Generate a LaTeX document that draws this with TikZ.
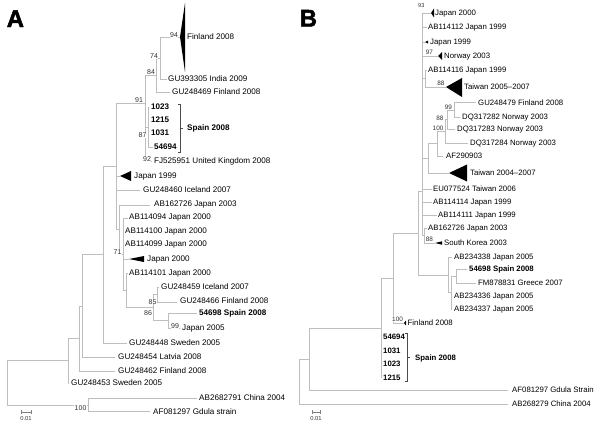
\documentclass[tikz,border=0pt]{standalone}
\usepackage{fontspec}
\setmainfont{Liberation Sans}
\newfontfamily\heavyfont[FakeBold=2]{Liberation Sans Bold}
\definecolor{linegray}{RGB}{190,190,190}
\definecolor{bsgray}{RGB}{50,50,50}
\newcommand\hbranch[3]{\draw[br] (#1,#3) -- (#2,#3);}
\newcommand\vbranch[3]{\draw[br] (#1,#2) -- (#1,#3);}
\tikzset{
  br/.style={draw=linegray, line width=0.9pt, line cap=rect},
  brk/.style={draw=black!70, line width=0.8pt},
  tri/.style={fill=black, draw=none},
  labA/.style={font=\fontsize{8.1}{9}\selectfont, anchor=west, inner sep=0pt, text height=5.8pt, text depth=0pt},
  labB/.style={font=\fontsize{7.8}{9}\selectfont, anchor=west, inner sep=0pt, text height=5.6pt, text depth=0pt},
  bsA/.style={font=\fontsize{7}{8}\selectfont, anchor=east, inner sep=0.4pt, fill=white, text=bsgray, text height=5pt, text depth=0pt},
  bsB/.style={font=\fontsize{6.4}{7}\selectfont, anchor=east, inner sep=0.4pt, fill=white, text=bsgray, text height=4.6pt, text depth=0pt},
  scl/.style={font=\fontsize{5.8}{6}\selectfont, inner sep=0pt, text=bsgray},
  panel/.style={font=\heavyfont\fontsize{24}{24}\selectfont, anchor=base west, inner sep=0pt}
}
\begin{document}
\begin{tikzpicture}[x=1pt,y=-1pt]
\useasboundingbox (0,0) rectangle (600,429);
% ================= Panel A =================
\node[panel] (pA) at (6.5,27) {A};
\vbranch{160}{37}{79}
\hbranch{160}{180}{37}
\fill[tri] (180,37) -- (185,3) -- (185,72) -- cycle;
\hbranch{160}{167}{79}
\vbranch{156}{58}{92}
\hbranch{156}{160}{58}
\hbranch{156}{170}{92}
\vbranch{145}{75}{161}
\hbranch{145}{156}{75}
\hbranch{116}{145}{103}
\vbranch{148}{107}{147}
\hbranch{145}{148}{127}
\hbranch{148}{153}{147}
\hbranch{145}{152}{161}
\draw[brk] (178,104) -- (180,104) -- (180,152) -- (178,152);
\draw[brk] (180,128) -- (183,128);
\vbranch{116}{103}{229.5}
\hbranch{103}{116}{166}
\hbranch{116}{120}{176}
\fill[tri] (120,176) -- (131,171) -- (131,181) -- cycle;
\hbranch{116}{140}{190}
\vbranch{119}{205}{254}
\hbranch{116}{119}{229.5}
\hbranch{119}{150}{205}
\vbranch{123}{218}{290}
\hbranch{119}{123}{254}
\hbranch{123}{128}{218}
\hbranch{123}{129}{259}
\fill[tri] (129,259) -- (144,256) -- (144,262) -- cycle;
\hbranch{123}{126}{290}
\vbranch{126}{273}{307.5}
\hbranch{126}{128}{273}
\hbranch{126}{153}{307.5}
\vbranch{153}{294.5}{320.5}
\vbranch{157}{287}{302}
\hbranch{153}{157}{294.5}
\hbranch{157}{159}{287}
\hbranch{157}{177}{302}
\vbranch{168}{313}{328}
\hbranch{153}{168}{320.5}
\hbranch{168}{197}{313}
\hbranch{168}{180}{328}
\vbranch{103}{166}{343}
\hbranch{82}{103}{254.5}
\hbranch{103}{127}{343}
\vbranch{82}{254.5}{357}
\hbranch{79}{82}{306}
\hbranch{82}{115}{357}
\vbranch{79}{306}{371}
\hbranch{68}{79}{338.5}
\hbranch{79}{115}{371}
\vbranch{68}{338.5}{383}
\hbranch{7}{68}{360.75}
\hbranch{68}{69}{383}
\vbranch{7}{360.75}{405}
\hbranch{7}{88}{405}
\vbranch{88}{398}{411.5}
\hbranch{88}{197}{398}
\hbranch{88}{150}{411.5}
% scale bar A
\draw[br, draw=gray] (21,412) -- (31,412);
\draw[br, draw=gray] (21,410.5) -- (21,413.5);
\draw[br, draw=gray] (31,410.5) -- (31,413.5);
\node[scl] (sA) at (26,418.5) {0.01};
% labels A
\node[labA] (a1) at (187,37) {Finland 2008};
\node[labA] (a2) at (168,79) {GU393305 India 2009};
\node[labA] (a3) at (172,92) {GU248469 Finland 2008};
\node[labA, font=\bfseries\fontsize{8.1}{9}\selectfont] (a4) at (151,107) {1023};
\node[labA, font=\bfseries\fontsize{8.1}{9}\selectfont] (a5) at (151,120) {1215};
\node[labA, font=\bfseries\fontsize{8.1}{9}\selectfont] (a6) at (151,133) {1031};
\node[labA, font=\bfseries\fontsize{8.1}{9}\selectfont] (a7) at (154,147) {54694};
\node[labA, font=\bfseries\fontsize{8.1}{9}\selectfont] (a8) at (187,128) {Spain 2008};
\node[labA] (a9) at (154,161) {FJ525951 United Kingdom 2008};
\node[labA] (a10) at (134,176) {Japan 1999};
\node[labA] (a11) at (143,190) {GU248460 Iceland 2007};
\node[labA] (a12) at (154,204) {AB162726 Japan 2003};
\node[labA] (a13) at (129,217) {AB114094 Japan 2000};
\node[labA] (a14) at (125,231) {AB114100 Japan 2000};
\node[labA] (a15) at (125,244) {AB114099 Japan 2000};
\node[labA] (a16) at (147,259) {Japan 2000};
\node[labA] (a17) at (129,273) {AB114101 Japan 2000};
\node[labA] (a18) at (161,287) {GU248459 Iceland 2007};
\node[labA] (a19) at (180,301) {GU248466 Finland 2008};
\node[labA, font=\bfseries\fontsize{8.1}{9}\selectfont] (a20) at (199,313) {54698 Spain 2008};
\node[labA] (a21) at (182,328) {Japan 2005};
\node[labA] (a22) at (129,343) {GU248448 Sweden 2005};
\node[labA] (a23) at (118,357) {GU248454 Latvia 2008};
\node[labA] (a24) at (118,371) {GU248462 Finland 2008};
\node[labA] (a25) at (71,383) {GU248453 Sweden 2005};
\node[labA] (a26) at (199,398) {AB2682791 China 2004};
\node[labA] (a27) at (153,411.5) {AF081297 Gdula strain};
% bootstrap A
\node[bsA] (b1) at (178.5,35) {94};
\node[bsA] (b2) at (158.5,56) {74};
\node[bsA] (b3) at (155.5,72) {84};
\node[bsA] (b4) at (143.5,100) {91};
\node[bsA] (b5) at (147,135) {87};
\node[bsA] (b6) at (151.5,159) {92};
\node[bsA] (b7) at (122,252) {71};
\node[bsA] (b8) at (157,301.5) {85};
\node[bsA] (b9) at (152.5,313) {86};
\node[bsA] (b10) at (179.5,326) {99};
\node[bsA] (b11) at (87,408) {100};
% ================= Panel B =================
\node[panel] (pB) at (299.5,26.5) {B};
\vbranch{299.5}{359}{404}
\hbranch{299.5}{309}{359}
\vbranch{309}{328}{390}
\hbranch{309}{508}{390}
\hbranch{299.5}{508}{404}
\hbranch{309}{381}{328}
\vbranch{381}{278}{378}
\draw[brk] (405,333) -- (407,333) -- (407,381) -- (405,381);
\draw[brk] (407,357) -- (410,357);
\hbranch{381}{393}{278}
\vbranch{393}{233}{323}
\hbranch{393}{404}{323}
\fill[tri] (404,323) -- (406,320.5) -- (406,325.5) -- cycle;
\hbranch{393}{418}{233}
\vbranch{418}{191}{275}
\hbranch{418}{422}{191}
\hbranch{418}{448}{275}
\vbranch{448}{257}{292.5}
\hbranch{448}{452}{257}
\hbranch{448}{451}{292.5}
\vbranch{451}{276}{309}
\hbranch{451}{452}{296}
\hbranch{451}{452}{309}
\hbranch{451}{456}{276}
\vbranch{456}{269}{283}
\hbranch{456}{467}{269}
\hbranch{456}{476}{283}
\vbranch{422}{13}{235.5}
\hbranch{422}{431}{13}
\fill[tri] (431,13) -- (434,8.5) -- (434,17.5) -- cycle;
\hbranch{422}{427}{27}
\hbranch{422}{425}{42}
\fill[tri] (425,42) -- (428,40.5) -- (428,43.5) -- cycle;
\hbranch{422}{438}{56}
\fill[tri] (438,56) -- (442,52) -- (442,60) -- cycle;
\vbranch{425}{70}{87}
\hbranch{422}{425}{78.5}
\hbranch{425}{427}{70}
\hbranch{425}{446}{87}
\fill[tri] (446,87) -- (462,78) -- (462,97) -- cycle;
\vbranch{428}{143.5}{173}
\hbranch{422}{428}{158}
\vbranch{437}{131}{156}
\hbranch{428}{437}{143.5}
\hbranch{437}{443}{156}
\vbranch{445}{119.5}{143}
\hbranch{437}{445}{131}
\hbranch{445}{468}{143}
\vbranch{447}{110}{129}
\hbranch{445}{447}{119.5}
\hbranch{447}{455}{129}
\vbranch{454}{102.5}{117}
\hbranch{447}{454}{110}
\hbranch{454}{476}{102.5}
\hbranch{454}{460}{117}
\hbranch{428}{449}{173}
\fill[tri] (449,173) -- (467,164.5) -- (467,181.5) -- cycle;
\hbranch{422}{432}{189}
\hbranch{422}{432}{202}
\hbranch{422}{437}{215}
\vbranch{424}{228}{243}
\hbranch{422}{424}{235.5}
\hbranch{424}{427}{228}
\hbranch{424}{435}{243}
\fill[tri] (435,243) -- (442,241.3) -- (442,244.7) -- cycle;
% scale bar B
\draw[br, draw=gray] (312,412) -- (320,412);
\draw[br, draw=gray] (312,410.5) -- (312,413.5);
\draw[br, draw=gray] (320,410.5) -- (320,413.5);
\node[scl] (sB) at (316,418.5) {0.01};
% labels B
\node[labB] (c1) at (435,13) {Japan 2000};
\node[labB] (c2) at (428,27) {AB114112 Japan 1999};
\node[labB] (c3) at (430,42) {Japan 1999};
\node[labB] (c4) at (444,56) {Norway 2003};
\node[labB] (c5) at (428,70) {AB114116 Japan 1999};
\node[labB] (c6) at (464,87) {Taiwan 2005–2007};
\node[labB] (c7) at (478,102.5) {GU248479 Finland 2008};
\node[labB] (c8) at (462,117) {DQ317282 Norway 2003};
\node[labB] (c9) at (457,129) {DQ317283 Norway 2003};
\node[labB] (c10) at (470,143) {DQ317284 Norway 2003};
\node[labB] (c11) at (446,156) {AF290903};
\node[labB] (c12) at (470,173) {Taiwan 2004–2007};
\node[labB] (c13) at (433,189) {EU077524 Taiwan 2006};
\node[labB] (c14) at (433,202) {AB114114 Japan 1999};
\node[labB] (c15) at (438,215) {AB114111 Japan 1999};
\node[labB] (c16) at (428,228) {AB162726 Japan 2003};
\node[labB] (c17) at (444,242.5) {South Korea 2003};
\node[labB] (c18) at (454,257) {AB234338 Japan 2005};
\node[labB, font=\bfseries\fontsize{7.8}{9}\selectfont] (c19) at (469,269) {54698 Spain 2008};
\node[labB] (c20) at (478,283) {FM878831 Greece 2007};
\node[labB] (c21) at (454,296) {AB234336 Japan 2005};
\node[labB] (c22) at (454,309) {AB234337 Japan 2005};
\node[labB] (c23) at (407.5,323) {Finland 2008};
\node[labB, font=\bfseries\fontsize{7.8}{9}\selectfont] (c24) at (383,337) {54694};
\node[labB, font=\bfseries\fontsize{7.8}{9}\selectfont] (c25) at (383,351) {1031};
\node[labB, font=\bfseries\fontsize{7.8}{9}\selectfont] (c26) at (383,364) {1023};
\node[labB, font=\bfseries\fontsize{7.8}{9}\selectfont] (c27) at (383,378) {1215};
\node[labB, font=\bfseries\fontsize{7.8}{9}\selectfont] (c28) at (415,358) {Spain 2008};
\node[labB] (c29) at (512,390) {AF081297 Gdula Strain};
\node[labB] (c30) at (512,404) {AB268279 China 2004};
% bootstrap B
\node[bsB, font=\fontsize{5.6}{6}\selectfont] (d1) at (425,5) {93};
\node[bsB] (d2) at (433.5,52.5) {97};
\node[bsB] (d3) at (445,83) {88};
\node[bsB] (d4) at (452.5,107) {99};
\node[bsB] (d5) at (444,118) {88};
\node[bsB] (d6) at (444,128) {100};
\node[bsB] (d7) at (433.5,239) {88};
\node[bsB] (d8) at (403.5,319) {100};
\end{tikzpicture}
\end{document}
